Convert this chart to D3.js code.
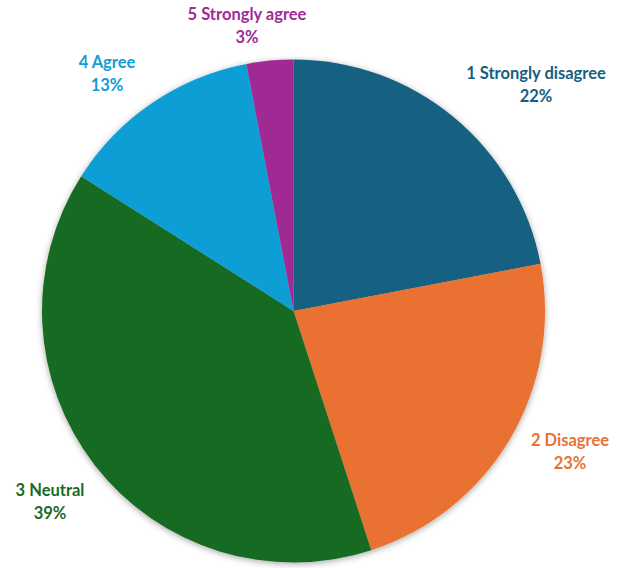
<!DOCTYPE html>
<html>
<head>
<meta charset="utf-8">
<script src="https://cdn.jsdelivr.net/npm/d3@7"></script>
<style>
  html, body { margin: 0; padding: 0; background: #fff; }
  svg { display: block; }
  .lbl { font-family: Lato, "Open Sans", sans-serif; font-weight: 700; font-size: 16.5px; }
</style>
</head>
<body>
<svg id="chart" width="625" height="568"></svg>
<script>
// Survey response shares (percent)
const categories = ["1 Strongly disagree", "2 Disagree", "3 Neutral", "4 Agree", "5 Strongly agree"];
const values = [22, 23, 39, 13, 3];
const colors = ["#156082", "#E97132", "#196B24", "#0F9ED5", "#A02B93"];
// Label anchor positions (centre of the two-line label block)
const labelPos = [[536, 84], [570, 451], [50, 501], [107, 73], [247, 25]];

const width = 625, height = 568;
const cx = 293.5, cy = 311, radius = 251.5;

const svg = d3.select("#chart");

const defs = svg.append("defs");
const filter = defs.append("filter").attr("id", "pieShadow")
  .attr("x", "-10%").attr("y", "-10%").attr("width", "120%").attr("height", "120%");
filter.append("feDropShadow")
  .attr("dx", 0).attr("dy", 1.5).attr("stdDeviation", 3)
  .attr("flood-color", "#000").attr("flood-opacity", 0.35);

const data = categories.map((c, i) => ({ name: c, value: values[i], color: colors[i], pos: labelPos[i] }));

const pie = d3.pie().value(d => d.value).sort(null);
const arc = d3.arc().innerRadius(0).outerRadius(radius);

const g = svg.append("g")
  .attr("transform", `translate(${cx},${cy})`)
  .attr("filter", "url(#pieShadow)");

g.selectAll("path")
  .data(pie(data))
  .join("path")
  .attr("d", arc)
  .attr("fill", d => d.data.color);

const labels = svg.append("g").selectAll("text")
  .data(data)
  .join("text")
  .attr("class", "lbl")
  .attr("text-anchor", "middle")
  .attr("fill", d => d.color)
  .attr("transform", d => `translate(${d.pos[0]},${d.pos[1]})`);

labels.append("tspan").attr("x", 0).attr("y", -5).text(d => d.name);
labels.append("tspan").attr("x", 0).attr("y", 17.5).text(d => d.value + "%");
</script>
</body>
</html>
